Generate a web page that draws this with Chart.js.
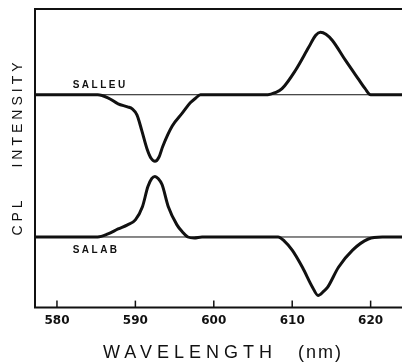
<!DOCTYPE html>
<html>
<head>
<meta charset="utf-8">
<script src="https://cdn.jsdelivr.net/npm/chart.js@4/dist/chart.umd.min.js"></script>
<style>
  html, body { margin: 0; padding: 0; background: #fff; }
</style>
</head>
<body>
<canvas id="cplChart" width="402" height="363"></canvas>
<script>
// wavelength window (nm) and tick labels
const wavelengthRange = [577.2, 624];
const wavelengthTicks = [580, 590, 600, 610, 620];

// SALLEU trace (upper): wavelength (nm) and CPL intensity (arb.)
const salleuWavelength = [577.2, 585.2, 586.5, 587.8, 589.0, 589.6, 590.2, 590.8, 591.5, 592.0, 592.5, 593.0, 593.5, 594.7, 596.0, 597.0, 597.6, 598.3,
  606.9, 607.8, 608.7, 610.4, 612.1, 613.0, 613.6, 614.3, 615.1, 616.8, 618.4, 619.3, 620.0, 624];
const salleuCpl = [0, 0, -3, -9, -12, -14, -20, -35, -54, -63, -66, -62, -51, -31, -18, -8, -4, 0,
  0, 2, 6, 24, 47, 59, 62, 60, 54, 34, 16, 6, 0, 0];

// SALAB trace (lower)
const salabWavelength = [577.2, 585.2, 586.5, 587.8, 589.0, 590.0, 590.9, 591.6, 592.1, 592.5, 592.9, 593.4, 594.2, 595.3, 596.0, 596.7, 597.5, 598.5,
  608.2, 609.0, 610.0, 611.3, 612.6, 613.3, 614.0, 614.5, 615.9, 617.7, 619.7, 621.5, 624];
const salabCpl = [0, 0, 3, 8, 12, 17, 30, 50, 58, 60, 58, 52, 30, 12, 5, 0, -1, 0,
  0, -4, -13, -30, -50, -58, -54, -50, -30, -13, -2, 0, 0];

// vertical offsets of the two traces on the shared axis
const salleuBaseline = 211;
const salabBaseline = 70;
const intensityRange = [0, 296];

const toPoints = (xs, ys, base) => xs.map((w, i) => ({ x: w, y: ys[i] + base }));
const flatLine = (base) => wavelengthRange.map((w) => ({ x: w, y: base }));

const ink = "#111";

const frameAndText = {
  id: "frameAndText",
  afterDraw(chart) {
    const { ctx, chartArea: a, scales: { x, y } } = chart;
    ctx.save();
    ctx.strokeStyle = ink;
    ctx.fillStyle = ink;

    // frame: top, left, bottom
    ctx.lineWidth = 2;
    ctx.beginPath();
    ctx.moveTo(a.right, a.top);
    ctx.lineTo(a.left, a.top);
    ctx.lineTo(a.left, a.bottom);
    ctx.lineTo(a.right, a.bottom);
    ctx.stroke();

    // tick marks pointing inward
    ctx.lineWidth = 1.5;
    x.ticks.forEach((t) => {
      const px = x.getPixelForValue(t.value);
      ctx.beginPath();
      ctx.moveTo(px, a.bottom);
      ctx.lineTo(px, a.bottom - 7);
      ctx.stroke();
    });

    // trace labels
    ctx.textBaseline = "middle";
    ctx.font = "bold 10px 'Liberation Sans'";
    ctx.letterSpacing = "2.5px";
    ctx.fillText("SALLEU", x.getPixelForValue(582), y.getPixelForValue(salleuBaseline) - 9);
    ctx.fillText("SALAB", x.getPixelForValue(582), y.getPixelForValue(salabBaseline) + 13);

    // x title
    ctx.font = "18px 'Liberation Sans'";
    ctx.letterSpacing = "5px";
    ctx.fillText("WAVELENGTH", 103, 353);
    ctx.letterSpacing = "2px";
    ctx.fillText("(nm)", 298, 353);

    // y title
    ctx.translate(18, 0);
    ctx.rotate(-Math.PI / 2);
    ctx.textAlign = "center";
    ctx.font = "14px 'Liberation Sans'";
    ctx.letterSpacing = "4px";
    ctx.fillText("INTENSITY", -113, 0);
    ctx.fillText("CPL", -216, 0);
    ctx.restore();
  },
};

const traceStyle = {
  borderColor: ink,
  borderWidth: 3,
  pointRadius: 0,
  cubicInterpolationMode: "monotone",
  fill: false,
};
const baseStyle = {
  borderColor: ink,
  borderWidth: 1,
  pointRadius: 0,
  fill: false,
};

new Chart(document.getElementById("cplChart"), {
  type: "line",
  data: {
    datasets: [
      { label: "SALLEU base", data: flatLine(salleuBaseline), ...baseStyle },
      { label: "SALAB base", data: flatLine(salabBaseline), ...baseStyle },
      { label: "SALLEU", data: toPoints(salleuWavelength, salleuCpl, salleuBaseline), ...traceStyle },
      { label: "SALAB", data: toPoints(salabWavelength, salabCpl, salabBaseline), ...traceStyle },
    ],
  },
  options: {
    responsive: false,
    animation: false,
    layout: { padding: { left: 35, top: 9, right: 0, bottom: 37 } },
    plugins: { legend: { display: false }, tooltip: { enabled: false } },
    scales: {
      x: {
        type: "linear",
        min: wavelengthRange[0],
        max: wavelengthRange[1],
        grid: { display: false },
        border: { display: false },
        afterBuildTicks: (scale) => {
          scale.ticks = wavelengthTicks.map((v) => ({ value: v }));
        },
        ticks: {
          padding: -2,
          color: ink,
          font: { family: "DejaVu Sans", weight: "bold", size: 12 },
        },
      },
      y: { display: false, min: intensityRange[0], max: intensityRange[1] },
    },
  },
  plugins: [frameAndText],
});
</script>
</body>
</html>
